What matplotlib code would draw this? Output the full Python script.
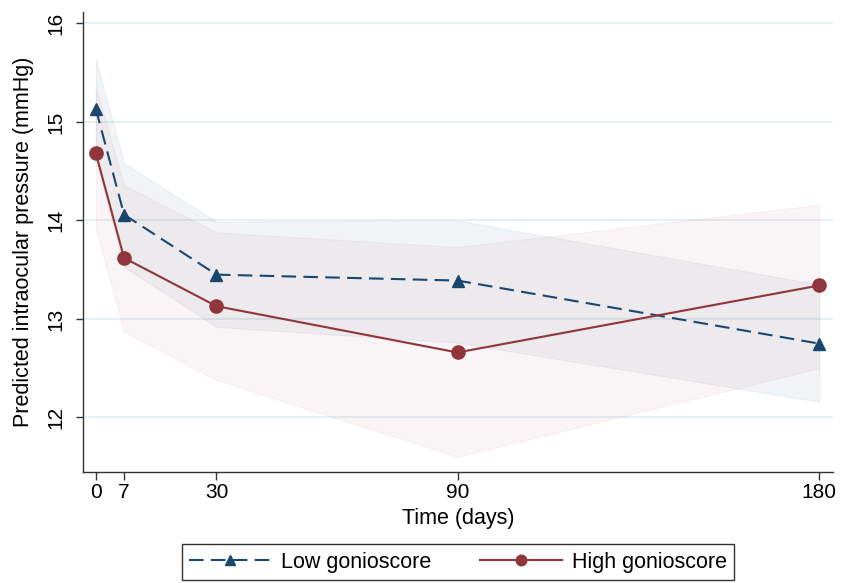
import matplotlib
matplotlib.use("Agg")
import matplotlib.pyplot as plt

plt.rcParams['font.family'] = ['Liberation Sans', 'DejaVu Sans']

time = [0, 7, 30, 90, 180]
low = [15.13, 14.06, 13.45, 13.39, 12.75]
low_hi = [15.63, 14.58, 13.99, 14.0, 13.35]
low_lo = [14.62, 13.53, 12.92, 12.76, 12.16]
high = [14.68, 13.62, 13.13, 12.66, 13.34]
high_hi = [15.35, 14.36, 13.88, 13.73, 14.16]
high_lo = [13.91, 12.87, 12.38, 11.6, 12.5]
xticks = [0, 7, 30, 90, 180]
yticks = [12, 13, 14, 15, 16]

navy = "#1a476f"
maroon = "#90353b"

fig = plt.figure(figsize=(8.41, 5.83), dpi=100)
ax = fig.add_axes([0.0983, 0.191, 0.892, 0.789])

for y in yticks:
    ax.axhline(y, color="#e3eef2", lw=1.2, zorder=0)

ax.fill_between(time, low_lo, low_hi, color=navy, alpha=0.06, lw=0.8, zorder=1)
ax.fill_between(time, high_lo, high_hi, color=maroon, alpha=0.05, lw=0.8, zorder=1)

ax.plot(time, low, color=navy, ls=(0, (7, 3.5)), lw=1.5, marker="^", ms=9,
        label="Low gonioscore", zorder=3)
ax.plot(time, high, color=maroon, ls="-", lw=1.5, marker="o", ms=9.5,
        label="High gonioscore", zorder=3)

ax.set_xlim(-3.3, 183.4)
ax.set_ylim(11.45, 16.12)
ax.set_xticks(xticks)
ax.set_yticks(yticks)
ax.set_yticklabels([str(v) for v in yticks], rotation=90, va="center")
ax.tick_params(axis="both", labelsize=15, length=5.4, width=1, color="#333333", pad=3)
ax.tick_params(axis="y", pad=7)
for s in ["top", "right"]:
    ax.spines[s].set_visible(False)
for s in ["left", "bottom"]:
    ax.spines[s].set_color("#333333")
    ax.spines[s].set_linewidth(1)
ax.set_xlabel("Time (days)", fontsize=15.5, labelpad=4)
ax.set_ylabel("Predicted intraocular pressure (mmHg)", fontsize=15.5, labelpad=9)

leg = fig.legend(loc="center", bbox_to_anchor=(0.5446, 0.036), ncol=2, fontsize=15.5,
                 frameon=True, fancybox=False, edgecolor="black", handlelength=3.8,
                 handletextpad=0.45, columnspacing=2.3, borderpad=0.35, markerscale=0.8)
leg.get_frame().set_linewidth(1)

fig.savefig("out.png", dpi=100)
